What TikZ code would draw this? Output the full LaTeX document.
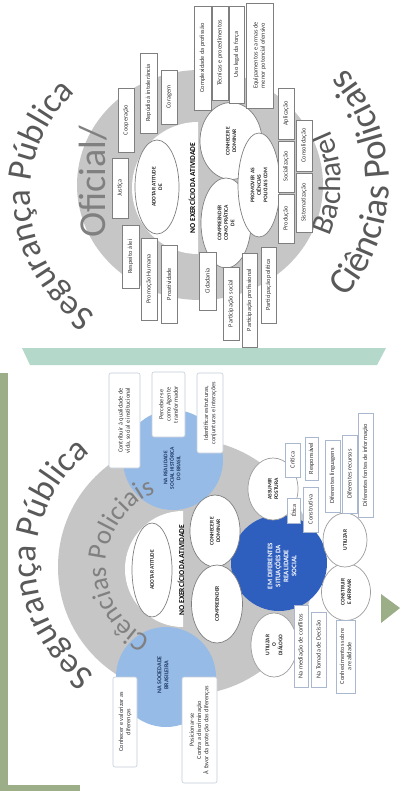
\documentclass[tikz,border=0pt]{standalone}
\usepackage{fontspec}
\setmainfont{Carlito}
\usetikzlibrary{shapes.geometric,decorations.text}
\definecolor{ringgrey}{HTML}{C6C6C6}
\definecolor{titlegrey}{HTML}{595959}
\definecolor{midgrey}{HTML}{808080}
\definecolor{sage}{HTML}{9BAE87}
\definecolor{mint}{HTML}{B4D8CA}
\definecolor{lightblue}{HTML}{97BBE7}
\definecolor{darkblue}{HTML}{2E5EBE}
\definecolor{navy}{HTML}{1F3864}
\definecolor{boxline}{HTML}{7F7F7F}
\definecolor{softline}{HTML}{C3CCDA}
\definecolor{blueline}{HTML}{A9B8CF}
\begin{document}
\begin{tikzpicture}[x=1pt,y=1pt,
  sz/.style 2 args={minimum width=#1pt, minimum height=#2pt},
  obox/.style={rotate=90, align=center, inner sep=0.5pt, draw=boxline, fill=white,
    line width=0.6pt, font=\fontsize{6.3}{7.2}\selectfont, text=black!80},
  rbox/.style={obox, draw=softline, rounded corners=2pt},
  lbox/.style={obox, draw=blueline},
  ell/.style={ellipse, rotate=90, align=center, inner sep=0pt, draw=boxline, fill=white,
    line width=0.7pt, font=\bfseries\fontsize{5.5}{6.5}\selectfont, text=black!85},
  lell/.style={ell, draw=ringgrey!80!black},
  lbl/.style={rotate=90, align=center, inner sep=0pt},
  band/.style={lbl, font=\bfseries\fontsize{7.5}{8}\selectfont, text=black}
]
\useasboundingbox (0,0) rectangle (408,-791);
\fill[white] (0,0) rectangle (408,-791);

% frame pieces
\fill[sage] (0,-373) rectangle (8,-791);
\fill[sage] (0,-785) rectangle (80,-791);
\fill[mint] (22,-348) -- (386,-348) -- (377,-365) -- (30,-365) -- cycle;
\fill[sage] (381,-594) -- (400,-608) -- (381,-623) -- cycle;

% ===================== upper panel: Oficial =====================
\fill[ringgrey] (200,-185) ellipse [x radius=123, y radius=115];
\fill[white] (198,-122) arc[start angle=90, end angle=270, radius=66] -- cycle;

\path[decorate, decoration={text along path, text align=center,
  text={|\fontsize{35}{35}\selectfont\color{titlegrey}|Segurança Pública}}]
  ([shift={(245:140)}]170,-196) arc[start angle=245, end angle=125, radius=140];
\node[lbl, font=\fontsize{38}{38}\selectfont, text=midgrey] (oficial) at (93,-182) {Oficial/};
\path[decorate, decoration={text along path, text align=center,
  text={|\fontsize{31}{31}\selectfont\color{titlegrey}|Bacharel}}]
  ([shift={(-35:124)}]217,-183) arc[start angle=-35, end angle=35, radius=124];
\path[decorate, decoration={text along path, text align=center,
  text={|\fontsize{37}{37}\selectfont\color{titlegrey}|Ciências Policiais}}]
  ([shift={(-55:172)}]217,-183) arc[start angle=-55, end angle=55, radius=172];

\node[band] (exO) at (192,-188) {NO EXERCÍCIO DA ATIVIDADE};
\node[ell, sz={94}{44}] (adotarO) at (157,-187) {ADOTAR ATITUDE\\DE};
\node[ell, sz={77}{62}] (conhecerO) at (231,-141) {CONHECER E\\DOMINAR};
\node[ell, sz={90}{50}] (comprO) at (226,-223) {COMPREENDER\\COMO PRÁTICA\\DE};
\node[ell, sz={104}{42}] (promover) at (259,-185) {PROMOVER AS\\CIÊNCIAS\\POLICIAIS COM};

\node[obox, sz={64}{16}] (coop) at (126,-120) {Cooperação};
\node[obox, sz={60}{16}] (just) at (120,-188) {Justiça};
\node[obox, sz={80}{17}] (repud) at (148.5,-93) {Repúdio à intolerância};
\node[obox, sz={54}{16}] (corag) at (169,-97) {Coragem};
\node[obox, sz={63}{17}] (resp) at (130.5,-256.5) {Respeito à lei};
\node[obox, sz={82}{16}] (promh) at (149,-279) {Promoção Humana};
\node[obox, sz={78}{16}] (proat) at (169,-284) {Proatividade};

\node[obox, sz={104}{17}] (compl) at (202.5,-58) {Complexidade da profissão};
\node[obox, sz={94}{16}] (tecn) at (220,-53) {Técnicas e procedimentos};
\node[obox, sz={97}{15}] (uso) at (236.5,-54.5) {Uso legal da força};
\node[obox, sz={105}{27}] (equip) at (259.5,-55.5) {Equipamentos e armas de\\menor potencial ofensivo};

\node[obox, sz={51}{16}] (aplic) at (286,-113.5) {Aplicação};
\node[obox, sz={51}{16}] (social) at (286,-166.5) {Socialização};
\node[obox, sz={49}{16}] (produ) at (286,-218.5) {Produção};
\node[obox, sz={51}{16}] (consol) at (304,-145.5) {Consolidação};
\node[obox, sz={59}{16}] (sistem) at (304,-202.5) {Sistematização};

\node[obox, sz={58}{17}] (cidad) at (207.5,-281) {Cidadania};
\node[obox, sz={73}{16}] (psoc) at (231,-303.5) {Participação social};
\node[obox, sz={94}{15}] (pprof) at (249.5,-300) {Participação profissional};
\node[obox, sz={76}{15}] (ppol) at (268.5,-285) {Participação política};

% ===================== lower panel: Ciências Policiais =====================
\fill[ringgrey] (186,-567) circle (128);
\fill[white] (183,-511) arc[start angle=90, end angle=270, radius=58] -- cycle;
\fill[lightblue] (173,-460) circle (50);
\fill[lightblue] (166,-677) circle (50);
\fill[darkblue] (279,-563) circle (48);

\path[decorate, decoration={text along path, text align=center,
  text={|\fontsize{35}{35}\selectfont\color{titlegrey}|Segurança Pública}}]
  ([shift={(240:137)}]173,-562) arc[start angle=240, end angle=122, radius=137];
\path[decorate, decoration={text along path, text align=center,
  text={|\fontsize{27}{27}\selectfont\color{midgrey}|Ciências Policiais}}]
  ([shift={(258:80)}]186,-567) arc[start angle=258, end angle=98, radius=80];

\node[lbl, font=\bfseries\fontsize{5.5}{6.5}\selectfont, text=navy] (realid) at (172,-468)
  {NA REALIDADE\\SOCIAL HISTÓRICA\\DO BRASIL};
\node[lbl, font=\bfseries\fontsize{6}{7}\selectfont, text=navy] (socbr) at (163,-675)
  {NA SOCIEDADE\\BRASILEIRA};
\node[lbl, font=\bfseries\fontsize{7}{8}\selectfont, text=white] (difer) at (282,-566)
  {EM DIFERENTES\\SITUAÇÕES DA\\REALIDADE\\SOCIAL};

\node[band] (exL) at (181,-570) {NO EXERCÍCIO DA ATIVIDADE};
\node[ell, sz={94}{40}] (adotarL) at (152,-570) {ADOTAR ATITUDE};
\node[ell, sz={72}{50}] (conhecerL) at (215,-531) {CONHECER E\\DOMINAR};
\node[ell, sz={78}{51}] (comprL) at (217,-604) {COMPREENDER};

\node[lell, sz={62}{50}] (assumir) at (273,-489) {ASSUMIR\\POSTURA};
\node[lell, sz={64}{46}] (dialogo) at (274,-645) {UTILIZAR\\O\\DIÁLOGO};
\node[lell, sz={57}{49}] (constr) at (346,-592) {CONSTRUIR\\E AFIRMAR};
\node[lell, sz={54}{44}] (utiliz) at (345,-540) {UTILIZAR};

\node[rbox, sz={95}{31}] (contrib) at (124.5,-420.5) {Contribuir à qualidade de\\vida, social e institucional};
\node[rbox, sz={65}{33}] (perceb) at (168.5,-404.5) {Perceber-se\\como Agente\\transformador};
\node[rbox, sz={80}{26}] (ident) at (210,-413) {Identificar estruturas,\\conjunturas e interações};
\node[rbox, sz={90}{24}] (valor) at (125,-722) {Conhecer e valorizar as\\diferenças};
\node[rbox, sz={106}{35}] (posic) at (199.5,-730) {Posicionar-se\\Contra a discriminação\\À favor da proteção das diferenças};

\node[lbox, sz={34}{15}] (critica) at (292.5,-460) {Crítica};
\node[lbox, sz={25}{13}] (etica) at (293.5,-510.5) {Ética};
\node[lbox, sz={43}{13}] (respon) at (311.5,-458.5) {Responsável};
\node[lbox, sz={45}{15}] (constru) at (310.5,-509.5) {Construtiva};
\node[lbox, sz={72}{15}] (ling) at (332.5,-476) {Diferentes linguagens};
\node[lbox, sz={78}{15}] (recur) at (349.5,-474) {Diferentes recursos};
\node[lbox, sz={104}{15}] (fontes) at (365.5,-465) {Diferentes fontes de informação};
\node[lbox, sz={82}{14}] (mediac) at (301,-646) {Na mediação de conflitos};
\node[lbox, sz={75}{15}] (tomada) at (318.5,-649.5) {Na Tomada de Decisão};
\node[lbox, sz={73}{19}] (conhec) at (345.5,-656.5) {Conhecimentos sobre\\a realidade};
\end{tikzpicture}
\end{document}
